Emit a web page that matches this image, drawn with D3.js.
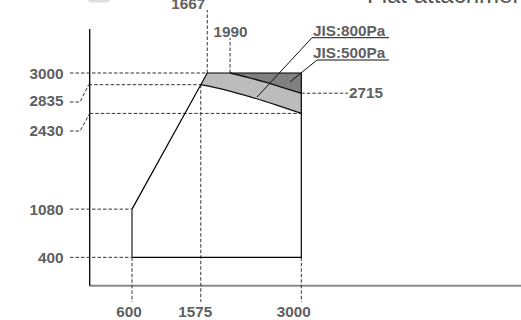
<!DOCTYPE html>
<html><head><meta charset="utf-8">
<script src="https://cdn.jsdelivr.net/npm/d3@7"></script>
<style>html,body{margin:0;padding:0;background:#fff;}svg{display:block;}</style>
</head><body>
<svg id="c" width="521" height="320"></svg>
<script>
// ---- data ----
const xTickValues = [600, 1575, 3000];
const yTickValues = [3000, 2835, 2430, 1080, 400];
const topTickValues = [1667, 1990];
const rightTickValues = [2715];
const envelope = [[600,1080],[1667,3000],[3000,3000],[3000,400],[600,400]];
const minLine = [[600,400],[600,1080]];
const curve800 = [[1990,3000],[2240,2940],[2490,2870],[2740,2795],[3000,2715]];
const curve500 = [[1575,2835],[1930,2760],[2290,2660],[2640,2550],[3000,2430]];
const curveLabels = ["JIS:800Pa", "JIS:500Pa"];
const titleText = "Flat attachment";

// ---- layout ----
const svg = d3.select("#c");
const x = d3.scaleLinear().domain([0, 3000]).range([89.7, 301.3]);
const y = d3.scaleLinear().domain([0, 3000]).range([285.7, 73]);
const textColor = "#606060";
const font = "'Liberation Sans', Arial, sans-serif";
const dash = "3.5,2";
const line = d3.line().x(d => x(d[0])).y(d => y(d[1]));
const curveLine = d3.line().x(d => x(d[0])).y(d => y(d[1])).curve(d3.curveMonotoneX);

// partial title at top (cut off, as in the reference)
svg.append("text").attr("x", 367).attr("y", 2.5).attr("font-family", font)
  .attr("font-size", 24).attr("fill", "#555").text(titleText);
svg.append("rect").attr("x", 88).attr("y", -4).attr("width", 22).attr("height", 6.5)
  .attr("rx", 4).attr("fill", "#ddd");

// shaded areas
svg.append("path")
  .attr("d", curveLine(curve500) + `L${x(3000)},${y(3000)}L${x(1667)},${y(3000)}Z`)
  .attr("fill", "#bcbcbc");
svg.append("path")
  .attr("d", curveLine(curve800) + `L${x(3000)},${y(3000)}Z`)
  .attr("fill", "#808080");

// axes
svg.append("line").attr("x1", x(0)).attr("x2", 521).attr("y1", y(0)).attr("y2", y(0))
  .attr("stroke", "#888").attr("stroke-width", 2);
svg.append("line").attr("x1", x(0)).attr("x2", x(0)).attr("y1", 29).attr("y2", y(0))
  .attr("stroke", "#000").attr("stroke-width", 1.3);

// dashed guides
const g = svg.append("g").attr("stroke", "#333").attr("stroke-width", 1).attr("stroke-dasharray", dash).attr("fill", "none");
const hLine = (x1, x2, yy) => g.append("line").attr("x1", x1).attr("x2", x2).attr("y1", yy).attr("y2", yy);
const vLine = (xx, y1, y2) => g.append("line").attr("x1", xx).attr("x2", xx).attr("y1", y1).attr("y2", y2);
const labelRight = 70;
hLine(labelRight, x(1667), y(3000));
hLine(labelRight, x(600), y(1080));
hLine(labelRight, x(600), y(400));
hLine(x(0) - 1, x(1575), y(2835));
hLine(x(0), x(3000), y(2430));
hLine(x(3000), 348, y(2715));
vLine(x(600), y(400), 302);
vLine(x(1575), y(2835), 302);
vLine(x(3000), y(400), 302);
vLine(x(1667), y(3000), 10);
vLine(x(1990), y(3000), 38);
// leaders for offset y labels
g.append("path").attr("d", `M${labelRight},102L80,102L${x(0)-1},${y(2835)}`);
g.append("path").attr("d", `M${labelRight},131L80,131L${x(0)},${y(2430)}`);

// envelope outline
svg.append("path").attr("d", line(envelope)).attr("fill", "none").attr("stroke", "#000").attr("stroke-width", 1.2);
svg.append("path").attr("d", line(minLine)).attr("fill", "none").attr("stroke", "#777").attr("stroke-width", 2);
// curves
svg.append("path").attr("d", curveLine(curve800)).attr("fill", "none").attr("stroke", "#111").attr("stroke-width", 1.3);
svg.append("path").attr("d", curveLine(curve500)).attr("fill", "none").attr("stroke", "#111").attr("stroke-width", 1.3);

// labels
const txt = (s, xx, yy, anchor) => svg.append("text").attr("x", xx).attr("y", yy)
  .attr("text-anchor", anchor).attr("font-family", font).attr("font-weight", "bold")
  .attr("font-size", 15.3).attr("fill", textColor).text(s);
const yLabelPos = {3000: y(3000), 2835: 100.5, 2430: 130, 1080: y(1080), 400: y(400)};
yTickValues.forEach(v => txt(v, 63.5, yLabelPos[v] + 5.5, "end"));
const xLabelShift = {600: -3, 1575: -5.5, 3000: -7.5};
xTickValues.forEach(v => txt(v, x(v) + xLabelShift[v], 317, "middle"));
txt(topTickValues[0], x(topTickValues[0]) - 19, 8.5, "middle");
txt(topTickValues[1], x(topTickValues[1]) + 0.5, 37, "middle");
txt(rightTickValues[0], 349, y(rightTickValues[0]) + 4.5, "start");

// curve callouts
const lead = svg.append("g").attr("stroke", "#111").attr("stroke-width", 1).attr("fill", "none");
lead.append("path").attr("d", `M${x(2372)},${y(2661)}L312,37.7L389,37.7`);
lead.append("path").attr("d", `M${x(2840)},${y(2873)}L317,60L389,60`);
txt(curveLabels[0], 313, 35.5, "start");
txt(curveLabels[1], 313, 58, "start");
</script>
</body></html>
